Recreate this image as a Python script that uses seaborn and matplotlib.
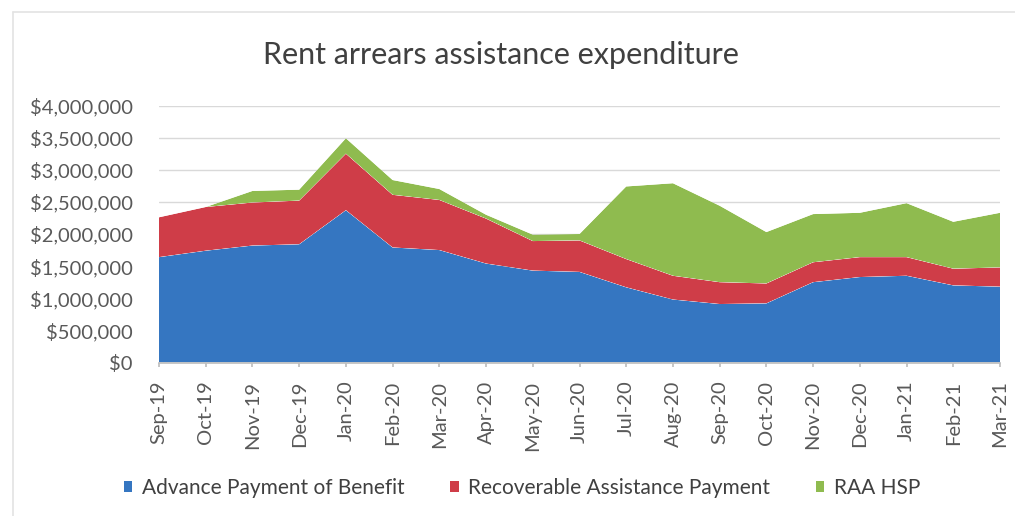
import matplotlib
matplotlib.use("Agg")
import matplotlib.pyplot as plt
from matplotlib.lines import Line2D
from matplotlib.patches import Patch
from matplotlib.ticker import FuncFormatter
import numpy as np
import pandas as pd
import seaborn as sns
import seaborn.objects as so

months = ["Sep-19", "Oct-19", "Nov-19", "Dec-19", "Jan-20", "Feb-20", "Mar-20",
          "Apr-20", "May-20", "Jun-20", "Jul-20", "Aug-20", "Sep-20", "Oct-20",
          "Nov-20", "Dec-20", "Jan-21", "Feb-21", "Mar-21"]

advance_payment = [1640000, 1740000, 1820000, 1840000, 2370000, 1790000, 1750000,
                   1540000, 1430000, 1410000, 1170000, 980000, 910000, 920000,
                   1250000, 1330000, 1350000, 1200000, 1180000]
recoverable_payment = [620000, 680000, 670000, 680000, 880000, 820000, 780000,
                       700000, 460000, 490000, 440000, 370000, 340000, 310000,
                       310000, 310000, 290000, 260000, 300000]
raa_hsp = [0, 0, 180000, 170000, 240000, 230000, 170000,
           60000, 100000, 100000, 1130000, 1440000, 1190000, 800000,
           750000, 690000, 840000, 730000, 850000]

series_names = ["Advance Payment of Benefit", "Recoverable Assistance Payment", "RAA HSP"]
series_colors = ["#3576c1", "#cf3d48", "#8fbb4f"]

df = pd.concat([
    pd.DataFrame({"x": np.arange(len(months)), "value": vals, "series": name})
    for name, vals in zip(series_names, [advance_payment, recoverable_payment, raa_hsp])
], ignore_index=True)

sns.set_theme(style="white")
plt.rcParams["font.family"] = ["Lato", "DejaVu Sans"]

W, H = 1015, 516
fig = plt.figure(figsize=(W / 100, H / 100), dpi=100)
ax = fig.add_axes([159 / W, 1 - 362.5 / H, (1000 - 159) / W, (362.5 - 105.5) / H])

(
    so.Plot(df, x="x", y="value", color="series")
    .add(so.Area(alpha=1, edgewidth=0), so.Stack())
    .scale(color=so.Nominal(dict(zip(series_names, series_colors)), order=series_names))
    .on(ax)
    .plot()
)
fig.legends.clear()

ax.set_xlim(0, len(months) - 1)
ax.set_ylim(0, 4000000)
ax.set_yticks(np.arange(0, 4000001, 500000))
ax.yaxis.set_major_formatter(FuncFormatter(lambda v, p: f"${v:,.0f}"))
ax.set_xticks(np.arange(len(months)))
ax.set_xticklabels(months, rotation=90)
ax.set_xlabel("")
ax.set_ylabel("")
ax.grid(axis="y", color="#d9d9d9", linewidth=1)
ax.set_axisbelow(True)
ax.tick_params(axis="y", labelsize=14.5, labelcolor="#595959", length=0, pad=19)
ax.tick_params(axis="x", labelsize=14.5, labelcolor="#595959", length=3,
               color="#bfbfbf", pad=10, bottom=True)
for s in ["top", "right", "left"]:
    ax.spines[s].set_visible(False)
ax.spines["bottom"].set_color("#bfbfbf")

fig.text(501 / W, 1 - 55 / H, "Rent arrears assistance expenditure",
         ha="center", va="center", fontsize=22, color="#404040")

handles = [Patch(facecolor=c, edgecolor="none") for c in series_colors]
fig.legend(handles, series_names, loc="center", bbox_to_anchor=(522 / W, 1 - 488 / H),
           ncol=3, frameon=False, fontsize=15, handlelength=0.4, handleheight=0.4,
           handletextpad=0.45, columnspacing=2.2, labelcolor="#404040")

# faint chart-area frame along the top and left edges
fig.add_artist(Line2D([13 / W, 1], [1 - 12 / H, 1 - 12 / H], transform=fig.transFigure,
                      color="#e3e3e3", linewidth=1.2))
fig.add_artist(Line2D([13 / W, 13 / W], [0, 1 - 12 / H], transform=fig.transFigure,
                      color="#e3e3e3", linewidth=1.2))

fig.savefig("out.png", dpi=100)
